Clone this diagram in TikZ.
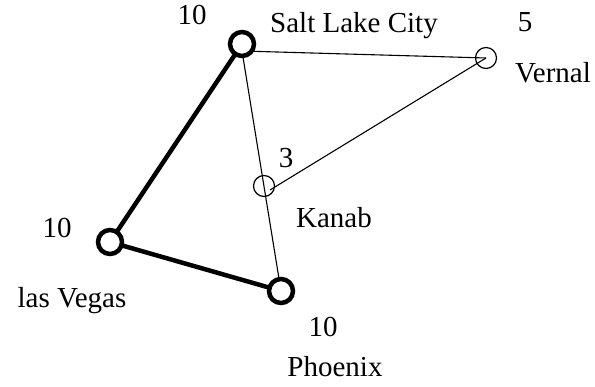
\documentclass[tikz,border=0pt]{standalone}
\usepackage{fontspec}
\setmainfont{Liberation Serif}
\begin{document}
\begin{tikzpicture}[x=1pt,y=-1pt,
  city/.style={circle,draw,line width=4.5pt,fill=white,minimum size=24pt,inner sep=0pt},
  town/.style={circle,draw,line width=1.2pt,minimum size=21pt,inner sep=0pt},
  thin/.style={line width=1.1pt},
  thick/.style={line width=4.5pt},
  lbl/.style={anchor=base,inner sep=0pt,font=\fontsize{29}{34}\selectfont}]
\useasboundingbox (0,0) rectangle (595,387);
% junction points
\coordinate (slcj) at (242,51);
\coordinate (kanj) at (270,190);
% thin circles
\node[town] (vernal) at (486,58) {};
\node[town] (kanab) at (264,186) {};
% thin edges
\draw[thin] (slcj) -- (vernal.center);
\draw[thin] (vernal.center) -- (kanj);
\coordinate (phx0) at (281,291);
\draw[thin] (slcj) -- (phx0);
% thick edges
\coordinate (slc0) at (242,44);
\coordinate (lv0) at (110,242);
\draw[thick] (slc0) -- (lv0) -- (phx0);
% thick circles
\node[city] (slc) at (slc0) {};
\node[city] (lv) at (lv0) {};
\node[city] (phx) at (phx0) {};
% labels
\node[lbl] (slcw) at (192,25) {10};
\node[lbl] (slcn) at (354,33) {Salt Lake City};
\node[lbl] (verw) at (525,32) {5};
\node[lbl] (vern) at (553,83) {Vernal};
\node[lbl] (kanw) at (286,168) {3};
\node[lbl] (kann) at (334,228) {Kanab};
\node[lbl] (lvw) at (57,238) {10};
\node[lbl] (lvn) at (72,308) {las Vegas};
\node[lbl] (phxw) at (323,337) {10};
\node[lbl] (phxn) at (335,377) {Phoenix};
\end{tikzpicture}
\end{document}
